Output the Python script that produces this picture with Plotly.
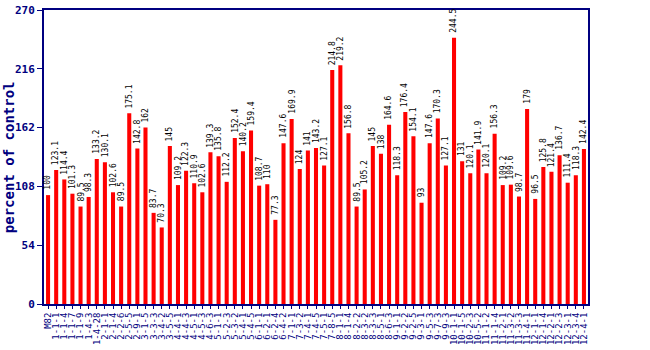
import plotly.graph_objects as go

labels = ["M82", "1-1-1", "1-1-4", "1-1-7", "1-1-9", "1-4-3", "1-4-28", "2-1-1", "2-1-4", "2-2-6",
          "2-5-5", "2-9-1", "3-1-5", "3-3-3", "3-4-2", "3-5-5", "4-4-1", "4-4-3", "4-5-1", "4-5-3",
          "4-6-3", "5-1-1", "5-2-3", "5-3-2", "5-4-1", "5-4-5", "6-1-1", "6-2-1", "6-2-4", "6-4-2",
          "7-1-1", "7-3-2", "7-4-1", "7-4-5", "7-5-1", "7-8-5", "8-1-1", "8-1-4", "8-2-2", "8-3-2",
          "8-3-3", "8-5-1", "8-6-3", "9-1-1", "9-2-2", "9-2-5", "9-3-1", "9-5-3", "9-7-3", "9-9-3",
          "10-1-1", "10-1-5", "10-2-3", "10-5-2", "11-1-2", "11-1-4", "11-2-1", "11-3-2", "11-3-3", "11-4-1",
          "12-1-1", "12-1-4", "12-2-1", "12-2-3", "12-3-1", "12-3-4", "12-4-1"]

values = [100, 123.1, 114.4, 101.3, 89.5, 98.3, 133.2, 130.1, 102.6, 89.5,
          175.1, 142.8, 162, 83.7, 70.3, 145, 109.2, 122.3, 110.9, 102.6,
          139.3, 135.8, 112.2, 152.4, 140.2, 159.4, 108.7, 110, 77.3, 147.6,
          169.9, 124, 141, 143.2, 127.1, 214.8, 219.2, 156.8, 89.5, 105.2,
          145, 138, 164.6, 118.3, 176.4, 154.1, 93, 147.6, 170.3, 127.1,
          244.5, 131, 120.1, 141.9, 120.1, 156.3, 109.2, 109.6, 98.7, 179,
          96.5, 125.8, 121.4, 136.7, 111.4, 118.3, 142.4]

y_ticks = [0, 54, 108, 162, 216, 270]
y_title = "percent of control"

navy = "#000080"
xs = list(range(len(labels)))

fig = go.Figure(go.Bar(
    x=xs,
    y=values,
    marker=dict(color="#ff0000", line=dict(width=0)),
    hoverinfo="x+y",
))

for x, v in zip(xs, values):
    fig.add_annotation(
        x=x, y=v, text=f"{v:g}", showarrow=False,
        textangle=-90, xanchor="center", yanchor="bottom", yshift=3,
        font=dict(family="DejaVu Sans Mono", size=8, color="black"),
    )

fig.add_annotation(
    xref="paper", yref="paper", x=-0.064, y=0.5, text=y_title, showarrow=False,
    textangle=-90, xanchor="center", yanchor="middle",
    font=dict(family="DejaVu Sans Mono", size=14, color=navy, weight="bold"),
)

fig.update_layout(
    width=650, height=350,
    margin=dict(l=44, r=62, t=10, b=46),
    paper_bgcolor="white", plot_bgcolor="white",
    bargap=0.5,
    showlegend=False,
)
fig.update_xaxes(
    range=[-0.5, len(labels) - 0.5],
    tickmode="array", tickvals=xs, ticktext=labels,
    tickangle=-90,
    tickfont=dict(family="DejaVu Sans Mono", size=9, color=navy),
    showline=True, linecolor=navy, linewidth=2, mirror=True,
    ticks="outside", ticklen=3, tickcolor=navy,
    showgrid=False, zeroline=False, automargin=False,
)
fig.update_yaxes(
    range=[0, 270],
    tickmode="array", tickvals=y_ticks, ticktext=[str(t) for t in y_ticks],
    tickfont=dict(family="DejaVu Sans Mono", size=11, color=navy, weight="bold"),
    showline=True, linecolor=navy, linewidth=2, mirror=True,
    ticks="outside", ticklen=5, tickcolor=navy,
    showgrid=False, zeroline=False, automargin=False,
)

fig.write_html("out.html")
